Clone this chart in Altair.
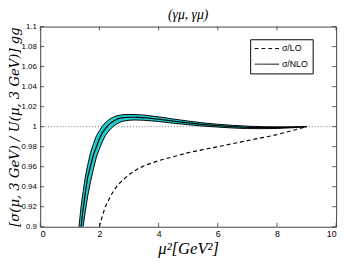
import altair as alt
import pandas as pd

# NLO ratio (center) with its uncertainty band
x_nlo = [1.30, 1.38, 1.45, 1.52, 1.6, 1.7, 1.8, 1.9, 2.0, 2.1, 2.2, 2.3, 2.4, 2.5, 2.6, 2.7,
         2.8, 3.0, 3.2, 3.5, 4.0, 4.5, 5.0, 5.5, 6.0, 6.5, 7.0, 7.5, 8.0, 8.5, 9.0]
nlo_center = [0.88, 0.900, 0.918, 0.933, 0.949, 0.961, 0.972, 0.980, 0.988, 0.994, 0.998, 1.0015,
              1.004, 1.006, 1.0075, 1.0085, 1.009, 1.0094, 1.0094, 1.009, 1.0075, 1.0055, 1.0038,
              1.0022, 1.001, 1.0, 0.9993, 0.999, 0.999, 0.9994, 1.000]
nlo_hi = [0.897, 0.920, 0.935, 0.949, 0.961, 0.974, 0.983, 0.991, 0.996, 1.0005, 1.004, 1.0065,
          1.0085, 1.010, 1.011, 1.0115, 1.012, 1.0122, 1.0121, 1.0116, 1.0098, 1.0076, 1.0056,
          1.0038, 1.0024, 1.0013, 1.0005, 1.0, 0.9998, 0.9998, 1.000]
nlo_lo = [0.855, 0.875, 0.900, 0.915, 0.930, 0.945, 0.958, 0.970, 0.978, 0.985, 0.991, 0.995,
          0.9985, 1.001, 1.003, 1.0045, 1.0055, 1.0064, 1.0067, 1.0064, 1.0052, 1.0034, 1.002,
          1.0006, 0.9996, 0.9987, 0.9981, 0.998, 0.9982, 0.9989, 1.000]

# LO ratio
x_lo = [2.0, 2.1, 2.2, 2.4, 2.6, 2.8, 3.0, 3.3, 3.6, 4.0, 4.5, 5.0, 5.5, 6.0, 6.5, 7.0, 7.5,
        8.0, 8.5, 9.0]
lo_vals = [0.900, 0.911, 0.920, 0.932, 0.941, 0.947, 0.952, 0.958, 0.962, 0.966, 0.970, 0.974,
           0.977, 0.980, 0.983, 0.986, 0.989, 0.992, 0.996, 1.000]

series_names = ["σ/LO", "σ/NLO"]
x_ticks = [0, 2, 4, 6, 8, 10]
y_ticks = [0.9, 0.92, 0.94, 0.96, 0.98, 1.0, 1.02, 1.04, 1.06, 1.08, 1.1]
ref_level = [1.0]

W, H = 303, 205
CYAN = "#22cccc"

df_band = pd.DataFrame({"x": x_nlo, "hi": nlo_hi, "lo": nlo_lo})
df_lines = pd.concat([
    pd.DataFrame({"x": x_lo, "y": lo_vals, "series": series_names[0]}),
    pd.DataFrame({"x": x_nlo, "y": nlo_center, "series": series_names[1]}),
])

xscale = alt.Scale(domain=[0, 10], nice=False, zero=False)
yscale = alt.Scale(domain=[0.9, 1.1], nice=False, zero=False)

xaxis = alt.Axis(values=x_ticks, format="d", ticks=False, domain=False, grid=False,
                 labelFontSize=9, labelFont="Liberation Sans", labelColor="black",
                 labelPadding=3, labelOverlap=False, title="μ²[GeV²]",
                 titleFont="Liberation Serif", titleFontStyle="italic",
                 titleFontWeight="normal", titleFontSize=17, titleColor="black",
                 titlePadding=2)
yaxis = alt.Axis(values=y_ticks, format="~g", ticks=False, domain=False, grid=False,
                 labelFontSize=8, labelFont="Liberation Sans", labelColor="black",
                 labelPadding=4, labelOverlap=False,
                 title="[σ(μ, 3 GeV) / U(μ, 3 GeV)] gg",
                 titleFont="DejaVu Serif", titleFontStyle="italic",
                 titleFontWeight="normal", titleFontSize=13.5, titleColor="black",
                 titlePadding=0)


def X(field):
    return alt.X(field, type="quantitative", scale=xscale, axis=xaxis)


def Y(field):
    return alt.Y(field, type="quantitative", scale=yscale, axis=yaxis)


ref = alt.Chart(pd.DataFrame({"y": ref_level})).mark_rule(
    color="#777", strokeDash=[1, 2], strokeWidth=1
).encode(y=Y("y"))

band = alt.Chart(df_band).mark_area(color=CYAN, opacity=1, clip=True).encode(
    x=X("x"), y=Y("lo"), y2="hi:Q")
edge_hi = alt.Chart(df_band).mark_line(color="black", strokeWidth=1, clip=True).encode(
    x=X("x"), y=Y("hi"))
edge_lo = alt.Chart(df_band).mark_line(color="black", strokeWidth=1, clip=True).encode(
    x=X("x"), y=Y("lo"))

lines = alt.Chart(df_lines).mark_line(color="black", strokeWidth=1.2, clip=True).encode(
    x=X("x"),
    y=Y("y"),
    strokeDash=alt.StrokeDash(
        "series:N",
        scale=alt.Scale(domain=series_names, range=[[4, 3], [1, 0]]),
        legend=alt.Legend(orient="none", legendX=215, legendY=13, title=None,
                          symbolType="M-2.5,0H2.5", symbolSize=100, symbolOffset=7.5,
                          symbolStrokeWidth=1, symbolStrokeColor="black",
                          labelFontSize=9, labelFont="Liberation Sans", labelColor="black",
                          strokeColor="black", fillColor="white", padding=4,
                          rowPadding=5, labelOffset=10),
    ),
)

df_xt = pd.DataFrame({"x": x_ticks})
df_yt = pd.DataFrame({"y": y_ticks})
tick_b = alt.Chart(df_xt).mark_rule(color="#333", strokeWidth=0.8).encode(
    x=X("x"), y=alt.value(H), y2=alt.value(H - 4))
tick_t = alt.Chart(df_xt).mark_rule(color="#333", strokeWidth=0.8).encode(
    x=X("x"), y=alt.value(0), y2=alt.value(4))
tick_l = alt.Chart(df_yt).mark_rule(color="#333", strokeWidth=0.8).encode(
    y=Y("y"), x=alt.value(0), x2=alt.value(4))
tick_r = alt.Chart(df_yt).mark_rule(color="#333", strokeWidth=0.8).encode(
    y=Y("y"), x=alt.value(W), x2=alt.value(W - 4))

chart = alt.layer(ref, band, edge_hi, edge_lo, lines, tick_b, tick_t, tick_l, tick_r).properties(
    width=W, height=H,
    title=alt.TitleParams("(γμ, γμ)", font="Liberation Serif", fontStyle="italic",
                          fontWeight="normal", fontSize=14, color="black", offset=1,
                          anchor="middle"),
    autosize=alt.AutoSizeParams(type="none"),
    padding={"left": 33, "top": 16, "right": 5, "bottom": 30},
).configure_view(stroke="#404040", strokeWidth=1)

chart.save("out.html", embed_options={"renderer": "svg", "actions": False})
